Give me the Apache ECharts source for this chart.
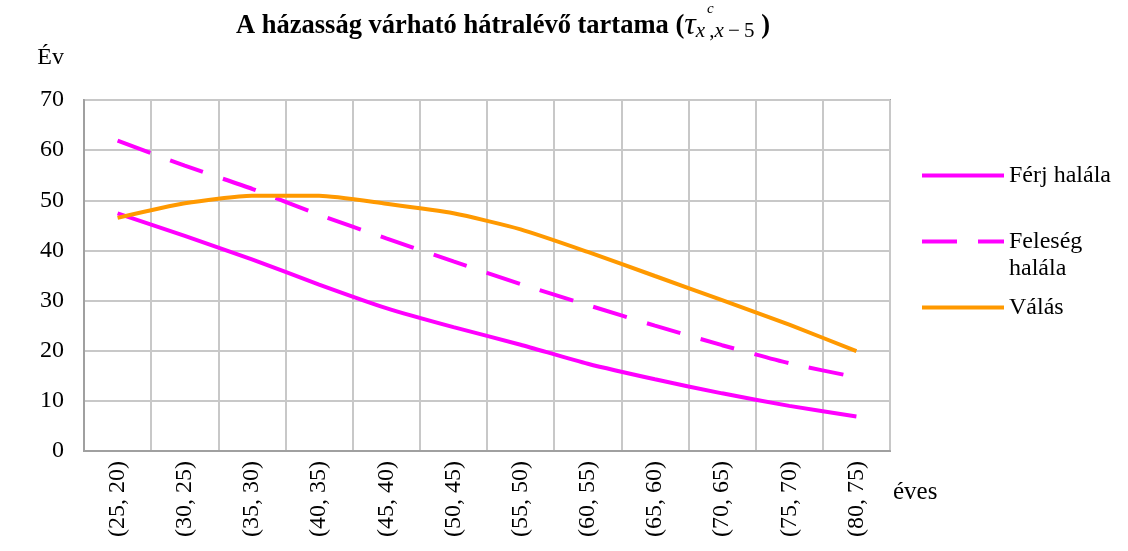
<!DOCTYPE html>
<html>
<head>
<meta charset="utf-8">
<script src="https://cdn.jsdelivr.net/npm/echarts@6/dist/echarts.min.js"></script>
<style>
html,body{margin:0;padding:0;background:#fff;}
#chart{width:1128px;height:551px;}
</style>
</head>
<body>
<div id="chart"></div>
<script>
var categories = ['(25, 20)', '(30, 25)', '(35, 30)', '(40, 35)', '(45, 40)', '(50, 45)',
    '(55, 50)', '(60, 55)', '(65, 60)', '(70, 65)', '(75, 70)', '(80, 75)'];
var ferjHalala = [47.4, 42.9, 38.2, 33.2, 28.5, 24.7, 21.2, 17.4, 14.3, 11.5, 9.0, 6.9];
var felesegHalala = [61.9, 56.9, 52.3, 47.1, 42.4, 37.8, 33.3, 29.1, 25.0, 21.1, 17.5, 14.7];
var valas = [46.5, 49.4, 50.9, 50.9, 49.3, 47.4, 44.2, 39.7, 34.9, 30.1, 25.2, 19.9];

var serif = 'Liberation Serif';
var chart = echarts.init(document.getElementById('chart'));

var option = {
    backgroundColor: '#fff',
    animation: false,
    title: {
        left: 231,
        top: 4,
        text: '{b|A házasság várható hátralévő tartama (}{t|τ}{si|x}{sr|\u2009,}{si|x}{sr|\u2009−\u20095}{b| )}',
        textStyle: {
            rich: {
                b: {fontFamily: serif, fontWeight: 'bold', fontSize: 26.5, color: '#000', lineHeight: 34},
                t: {fontFamily: serif, fontStyle: 'italic', fontWeight: 'normal', fontSize: 32, color: '#000', lineHeight: 34},
                si: {fontFamily: serif, fontStyle: 'italic', fontWeight: 'normal', fontSize: 21, color: '#000', lineHeight: 34, padding: [10, 0, 0, 0]},
                sr: {fontFamily: serif, fontWeight: 'normal', fontSize: 21, color: '#000', lineHeight: 34, padding: [10, 0, 0, 0]}
            }
        }
    },
    graphic: [{
        type: 'text',
        left: 707,
        top: 2,
        style: {text: 'c', font: 'italic 15px "Liberation Serif"', fill: '#000'}
    }],
    legend: {
        orient: 'vertical',
        left: 920,
        top: 162,
        padding: 0,
        itemWidth: 82,
        itemHeight: 20,
        itemGap: 12,
        itemStyle: {opacity: 0},
        lineStyle: {width: 4},
        textStyle: {fontFamily: serif, fontSize: 24, color: '#000', lineHeight: 27},
        formatter: function (name) {
            return name === 'Feleség halála' ? '\nFeleség\nhalála' : name;
        },
        data: ['Férj halála', 'Feleség halála', 'Válás']
    },
    grid: {
        left: 84,
        right: 238,
        top: 100,
        bottom: 100,
        show: true,
        borderColor: '#a0a0a0',
        borderWidth: 2
    },
    xAxis: {
        type: 'category',
        data: categories,
        boundaryGap: true,
        name: 'éves',
        nameLocation: 'end',
        nameGap: 3,
        nameTextStyle: {fontFamily: serif, fontSize: 25, color: '#000', align: 'left', verticalAlign: 'top', padding: [29, 0, 0, 0]},
        axisLine: {show: true, lineStyle: {color: '#a0a0a0', width: 2}},
        axisTick: {show: false},
        splitLine: {show: true, lineStyle: {color: '#c8c8c8', width: 2}},
        axisLabel: {interval: 0, rotate: 90, margin: 10, fontFamily: serif, fontSize: 24, color: '#000'}
    },
    yAxis: {
        type: 'value',
        min: 0,
        max: 70,
        interval: 10,
        name: 'Év',
        nameLocation: 'end',
        nameGap: 30,
        nameTextStyle: {fontFamily: serif, fontSize: 24, color: '#000', align: 'right', padding: [0, 20, 0, 0]},
        axisLine: {show: true, lineStyle: {color: '#a0a0a0', width: 2}},
        axisTick: {show: false},
        splitLine: {show: true, lineStyle: {color: '#c8c8c8', width: 2}},
        axisLabel: {margin: 20, fontFamily: serif, fontSize: 24, color: '#000'}
    },
    series: [
        {
            name: 'Férj halála',
            type: 'line',
            data: ferjHalala,
            smooth: 0.2,
            symbol: 'none',
            lineStyle: {color: '#ff00ff', width: 4},
            itemStyle: {color: '#ff00ff'}
        },
        {
            name: 'Feleség halála',
            type: 'line',
            data: felesegHalala,
            smooth: 0.2,
            symbol: 'none',
            lineStyle: {color: '#ff00ff', width: 4, type: [35, 21]},
            itemStyle: {color: '#ff00ff'}
        },
        {
            name: 'Válás',
            type: 'line',
            data: valas,
            smooth: 0.2,
            symbol: 'none',
            lineStyle: {color: '#ff9900', width: 4},
            itemStyle: {color: '#ff9900'}
        }
    ]
};

chart.setOption(option);
</script>
</body>
</html>
